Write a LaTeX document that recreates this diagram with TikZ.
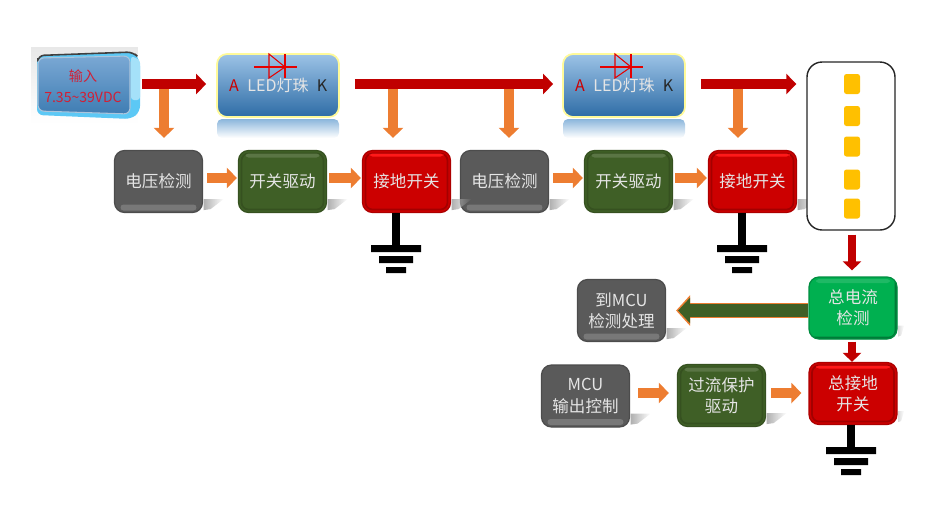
\documentclass[tikz,border=0pt]{standalone}
\usepackage{fontspec}
\setmainfont{Noto Sans CJK SC}
\usetikzlibrary{arrows.meta,calc,fadings}
\definecolor{arrowred}{HTML}{C00000}
\definecolor{arroworange}{HTML}{ED7D31}
\definecolor{arrowgreen}{HTML}{3F5F26}
\definecolor{blockgray}{HTML}{5A5A5A}
\definecolor{blockgreen}{HTML}{3F5F26}
\definecolor{blockred}{HTML}{CC0000}
\definecolor{blockbright}{HTML}{00B050}
\definecolor{ledtop}{HTML}{9CC3E6}
\definecolor{ledbottom}{HTML}{2E6CA6}
\definecolor{chipyellow}{HTML}{FFC000}
\definecolor{inputred}{HTML}{D21F35}
\definecolor{rimcyan}{HTML}{5CC8F5}
\definecolor{paneltop}{HTML}{7AA8D4}
\definecolor{panelbottom}{HTML}{3F7DB3}
\def\earth(#1){\fill[black] ($(#1)+(-25,0)$) rectangle ++(50,7) ($(#1)+(-17,11)$) rectangle ++(34,7) ($(#1)+(-10,22)$) rectangle ++(20,6);}
\tikzset{
	blocktext/.style={font=\fontsize{9.4}{12}\selectfont, text=white!90!black, align=center},
	block/.style={blocktext, rounded corners=0.2cm, minimum width=1.76cm, minimum height=1.24cm, inner sep=0pt, line width=0.7pt},
	graybox/.style={block, draw=black!70, fill=blockgray, path picture={
		\fill[white!18!blockgray, rounded corners=0.06cm] ($(path picture bounding box.south west)+(6,-8)$) rectangle ($(path picture bounding box.south east)+(-6,-2)$);}},
	greenbox/.style={block, draw=blockgreen!85!black, fill=blockgreen, path picture={
		\draw[blockgreen!85!black, line width=1pt, rounded corners=0.14cm] ($(path picture bounding box.south west)+(3,-3)$) rectangle ($(path picture bounding box.north east)+(-3,3)$);
		\fill[white!14!blockgreen, rounded corners=0.06cm] ($(path picture bounding box.north west)+(7,3)$) rectangle ($(path picture bounding box.north east)+(-7,7)$);}},
	redbox/.style={block, draw=blockred!85!black, fill=blockred, path picture={
		\draw[blockred!80!black, line width=1pt, rounded corners=0.14cm] ($(path picture bounding box.south west)+(3,-3)$) rectangle ($(path picture bounding box.north east)+(-3,3)$);
		\fill[red!90!white, rounded corners=0.06cm] ($(path picture bounding box.north west)+(7,3)$) rectangle ($(path picture bounding box.north east)+(-7,6)$);}},
	brightbox/.style={block, draw=blockbright!80!black, fill=blockbright, path picture={
		\draw[blockbright!70!black, line width=1.6pt, rounded corners=0.14cm] ($(path picture bounding box.south west)+(1,-1)$) -- ($(path picture bounding box.south east)+(-1,-1)$) -- ($(path picture bounding box.north east)+(-1,1)$);
		\fill[white!12!blockbright, rounded corners=0.06cm] ($(path picture bounding box.north west)+(7,2)$) rectangle ($(path picture bounding box.north east)+(-7,6)$);}},
	ledbox/.style={blocktext, font=\fontsize{9.1}{12}\selectfont, rounded corners=0.2cm, minimum width=2.44cm, minimum height=1.26cm, inner sep=0pt, draw=yellow!40!white, line width=1pt, top color=ledtop, bottom color=ledbottom},
	chip/.style={fill=chipyellow, rounded corners=0.05cm, minimum width=0.32cm, minimum height=0.4cm, inner sep=0pt},
	redarrow/.style={arrowred, line width=0.2cm, -{Triangle[length=0.2cm,width=0.4cm]}},
	orangearrow/.style={arroworange, line width=0.19cm, -{Triangle[length=0.2cm,width=0.4cm]}},
	dropline/.style={arrowred, line width=0.17cm, -{Triangle[length=0.18cm,width=0.36cm]}},
	stemline/.style={black, line width=0.16cm},
	diode/.style={red!90!black, line width=0.6pt}
}
\begin{document}
\begin{tikzpicture}[x=0.02cm,y=-0.02cm]
	\useasboundingbox (0,0) rectangle (946,512);
	%%%%% input panel %%%%%
	\fill[black!9, path fading=south] (31,47) rectangle (138,124);
	\fill[rimcyan, rounded corners=0.12cm] (37,56) -- (133,52) -- (140,60) -- (140,112) -- (131,119) -- (37,115) -- cycle;
	\fill[white!45!rimcyan, rounded corners=0.06cm] (131,56) -- (140,60) -- (140,100) -- (131,100) -- cycle;
	\draw[black!75, line width=0.9pt, rounded corners=0.12cm] (38,58) -- (38,55.5) -- (133,52) -- (135,54);
	\draw[white!60!ledbottom, line width=0.6pt, top color=paneltop, bottom color=panelbottom, rounded corners=0.12cm] (38,58) -- (130,56) -- (130,114) -- (38,111) -- cycle;
	\node[blocktext, font=\fontsize{8}{12}\selectfont, text=inputred, minimum width=2.08cm, minimum height=1.36cm, inner sep=0pt] (input) at (83,86) {输入\\7.35\textasciitilde39VDC};
	%%%%% LED sections %%%%%
	\foreach \num/\x in {1/278,2/624}{
		\fill[ledtop!85!ledbottom, path fading=south, rounded corners=0.1cm] (\x-61,119) rectangle (\x+61,138);
		\node[ledbox] (led\num) at (\x,85.5) {LED灯珠};
		\node[font=\fontsize{9.1}{12}\selectfont, text=red!80!black, inner sep=0pt] (anode\num) at (\x-44,86) {A};
		\node[font=\fontsize{9.1}{12}\selectfont, text=black!85, inner sep=0pt] (cathode\num) at (\x+44,86) {K};
		\draw[diode] (\x-24,67) -- (\x+19,67);
		\draw[diode] (\x-9,54) -- (\x-9,78) -- (\x+7,67) -- cycle;
		\draw[diode] (\x+7,54) -- (\x+7,78);
	}
	%%%%% blocks %%%%%
	\node[graybox] (volt1) at (158.5,181.5) {电压检测};
	\node[greenbox] (drive1) at (282.5,181.5) {开关驱动};
	\node[redbox] (switch1) at (406.5,181.5) {接地开关};
	\node[graybox] (volt2) at (504.5,181.5) {电压检测};
	\node[greenbox] (drive2) at (628.5,181.5) {开关驱动};
	\node[redbox] (switch2) at (752.5,181.5) {接地开关};
	\node[brightbox] (sense) at (853,308) {总电流\\检测};
	\node[redbox] (mainswitch) at (853,393.5) {总接地\\开关};
	\node[graybox] (report) at (621.5,310.5) {到MCU\\检测处理};
	\node[graybox] (mcu) at (585.5,396) {MCU\\输出控制};
	\node[greenbox] (guard) at (721.5,395.5) {过流保护\\驱动};
	%%%%% soft shadows %%%%%
	\foreach \blk in {volt1,drive1,switch1,volt2,drive2,switch2,report,mcu,guard}{
		\fill[black!32, path fading=east] (\blk.south east) ++(0.5,-14) -- ++(20,0) -- ++(-13,10) -- ++(-7,1) -- cycle;
	}
	\foreach \blk in {sense,mainswitch}{
		\fill[black!15, path fading=east] (\blk.south east) ++(0.5,-14) -- ++(6,0) -- ++(-3,10) -- ++(-3,1) -- cycle;
	}
	%%%%% LED string %%%%%
	\node[draw=black!85, line width=0.8pt, fill=white, rounded corners=0.3cm, minimum width=1.76cm, minimum height=3.36cm, inner sep=0pt] (string) at (851,146) {};
	\foreach \num/\y in {1/84,2/116,3/146.5,4/179.5,5/208.5}{
		\node[chip] (chip\num) at (852,\y) {};
	}
	%%%%% taps off the bus %%%%%
	\coordinate (tap1) at (164,84);
	\coordinate (tap2) at (393,84);
	\coordinate (tap3) at (509,84);
	\coordinate (tap4) at (738,84);
	\draw[orangearrow, shorten >=0.24cm] (tap1) -- (tap1 |- volt1.north);
	\draw[orangearrow, shorten >=0.24cm] (tap2) -- (tap2 |- switch1.north);
	\draw[orangearrow, shorten >=0.24cm] (tap3) -- (tap3 |- volt2.north);
	\draw[orangearrow, shorten >=0.24cm] (tap4) -- (tap4 |- switch2.north);
	%%%%% main current path %%%%%
	\draw[redarrow, shorten <=0.14cm, shorten >=0.2cm] (input.east |- tap1) -- (led1.west |- tap1);
	\draw[redarrow, shorten <=0.3cm, shorten >=0.18cm] (led1.east |- tap1) -- (led2.west |- tap1);
	\draw[redarrow, shorten <=0.3cm, shorten >=0.2cm] (led2.east |- tap1) -- (string.west |- tap1);
	\draw[dropline, shorten <=0.08cm, shorten >=0.12cm] (string.south -| chip5) -- (sense.north -| chip5);
	\draw[dropline, shorten <=0.04cm] (sense.south -| chip5) -- (mainswitch.north -| chip5);
	%%%%% control arrows %%%%%
	\draw[orangearrow, shorten <=0.08cm, shorten >=0.02cm] ([yshift=2pt]volt1.east) -- ([yshift=2pt]drive1.west);
	\draw[orangearrow, shorten <=0.04cm, shorten >=0.02cm] ([yshift=2pt]drive1.east) -- ([yshift=2pt]switch1.west);
	\draw[orangearrow, shorten <=0.08cm, shorten >=0.02cm] ([yshift=2pt]volt2.east) -- ([yshift=2pt]drive2.west);
	\draw[orangearrow, shorten <=0.04cm, shorten >=0.02cm] ([yshift=2pt]drive2.east) -- ([yshift=2pt]switch2.west);
	\draw[orangearrow, shorten <=0.16cm, shorten >=0.16cm] ([yshift=1.7pt]mcu.east) -- ([yshift=1.7pt]mcu.east -| guard.west);
	\draw[orangearrow, shorten <=0.1cm, shorten >=0.14cm] ([yshift=1.4pt]guard.east) -- ([yshift=1.4pt]guard.east -| mainswitch.west);
	%%%%% feedback to the controller %%%%%
	\draw[arroworange, line width=0.3cm, -{Triangle[length=0.28cm,width=0.6cm]}, shorten >=0.2cm] (sense.west |- report.east) -- (report.east);
	\draw[arrowgreen, line width=0.26cm, -{Triangle[length=0.24cm,width=0.5cm]}, shorten >=0.24cm] (sense.west |- report.east) -- (report.east);
	%%%%% grounds %%%%%
	\coordinate (earth1) at (396,245);
	\coordinate (earth2) at (742,245);
	\coordinate (earth3) at (851,447);
	\draw[stemline] (earth1 |- switch1.south) -- (earth1);
	\draw[stemline] (earth2 |- switch2.south) -- (earth2);
	\draw[stemline] (earth3 |- mainswitch.south) -- (earth3);
	\earth(earth1)
	\earth(earth2)
	\earth(earth3)
\end{tikzpicture}
\end{document}
